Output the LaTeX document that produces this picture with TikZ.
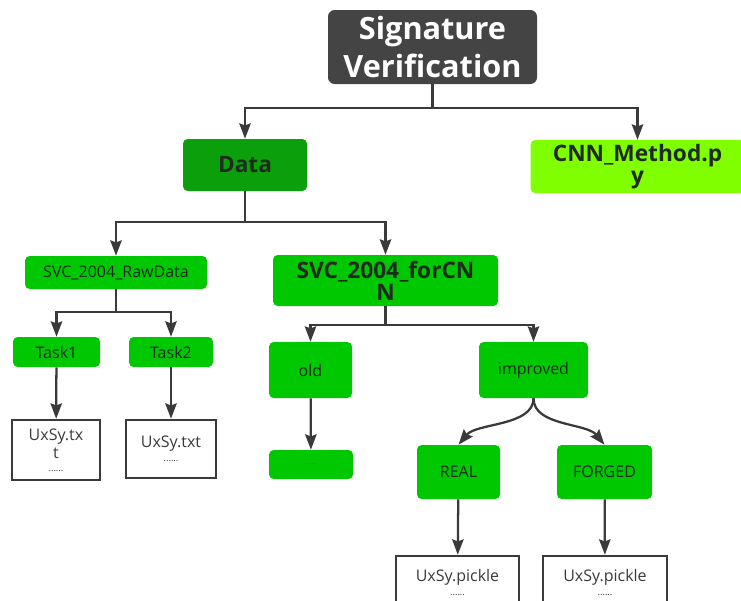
\documentclass[tikz,border=0pt]{standalone}
\usepackage{fontspec}
\setmainfont{Open Sans}
\usetikzlibrary{arrows.meta}
\definecolor{cRoot}{HTML}{444444}
\definecolor{cData}{HTML}{0B9F0B}
\definecolor{cLeaf}{HTML}{00C800}
\definecolor{cCode}{HTML}{80FF00}
\definecolor{cInk}{HTML}{1E2B1E}
\definecolor{cLine}{HTML}{3A3A3A}

\begin{document}
\begin{tikzpicture}[
  x=0.75pt, y=-0.75pt,
  box/.style={fill=#1, rounded corners=3.5pt, align=center, text=cInk, inner sep=0pt,
              font=\fontsize{12}{13.5}\selectfont},
  box/.default=cLeaf,
  sz/.style 2 args={minimum width=#1*0.75pt, minimum height=#2*0.75pt},
  big/.style={font=\fontsize{17}{16.5}\selectfont\bfseries},
  file/.style={draw=cLine, line width=1.9pt, fill=white, text=cLine, inner sep=0pt,
               align=center, font=\fontsize{12}{13.5}\selectfont},
  flow/.style={-{Stealth[length=11.5pt,width=8.5pt,inset=1.5pt]}, line width=1.7pt, draw=cLine},
  dots/.style={font=\fontsize{7}{13.5}\selectfont, text=cLine!80},
]
\path[fill=white] (0,0) rectangle (741,600);
\clip (0,0) rectangle (741,600);
\useasboundingbox (0,0) rectangle (741,600);

% ---------------- root ----------------
\node[box=cRoot, sz={209}{74}, text=white, rounded corners=5pt,
      font=\fontsize{23}{28.5}\selectfont\bfseries] (root) at (432.5,47)
  {Signature\\Verification};

% ---------------- first level ----------------
\node[box=cData, sz={124}{52}, big] (data) at (245,165) {Data};
\node[box=cCode, sz={214}{53}, big] (cnn) at (637.5,166.5) {CNN\_Method.p\\y};

\draw[flow] (root.south) -- ++(0,24) -| (data.north);
\draw[flow] (root.south) -- ++(0,24) -| (cnn.north);

% ---------------- data folders ----------------
\node[box, sz={182}{33}] (raw) at (116,272.5) {SVC\_2004\_RawData};
\node[box, sz={225}{51}, big] (forcnn) at (385.5,280.5) {SVC\_2004\_forCN\\N};

\draw[flow] (data.south) -- ++(0,31) -| (raw.north);
\draw[flow] (data.south) -- ++(0,31) -| (forcnn.north);

% ---------------- raw data ----------------
\node[box, sz={87}{30}] (task1) at (56.5,352) {Task1};
\node[box, sz={84}{30}] (task2) at (171,352) {Task2};

\draw[flow] (raw.south) -- ++(0,23) -| (task1.north);
\draw[flow] (raw.south) -- ++(0,23) -| (task2.north);

\node[file, sz={88}{60}] (txt1) at (56,450)
  {UxSy.tx\\t\\[-4pt]{\fontsize{7}{8}\selectfont ......}};
\node[file, sz={90}{58}] (txt2) at (171,449)
  {UxSy.txt\\[-3pt]{\fontsize{7}{8}\selectfont ......}};

\draw[flow] (task1) -- (txt1);
\draw[flow] (task2) -- (txt2);

% ---------------- data for the CNN ----------------
\node[box, sz={83}{56}] (old) at (310.5,370) {old};
\node[box, sz={109}{56}] (improved) at (533.5,370) {improved};

\draw[flow] (forcnn.south) -- ++(0,19) -| (old.north);
\draw[flow] (forcnn.south) -- ++(0,19) -| (improved.north);

\node[box, sz={84}{29}, dots] (olddots) at (311,464.5) {......};
\draw[flow] (old) -- (olddots);

\node[box, sz={83}{54}] (real) at (458.5,472) {REAL};
\node[box, sz={95}{54}] (forged) at (604.5,472) {FORGED};

\draw[flow] (improved.south) .. controls +(0,28) and +(18,-22) .. (real.north);
\draw[flow] (improved.south) .. controls +(0,28) and +(-18,-22) .. (forged.north);

\node[file, sz={123}{52}] (pkl1) at (457.5,582)
  {UxSy.pickle\\[-3pt]{\fontsize{7}{8}\selectfont ......}};
\node[file, sz={124}{52}] (pkl2) at (605,582)
  {UxSy.pickle\\[-3pt]{\fontsize{7}{8}\selectfont ......}};

\draw[flow] (real) -- (pkl1);
\draw[flow] (forged) -- (pkl2);

\end{tikzpicture}
\end{document}
